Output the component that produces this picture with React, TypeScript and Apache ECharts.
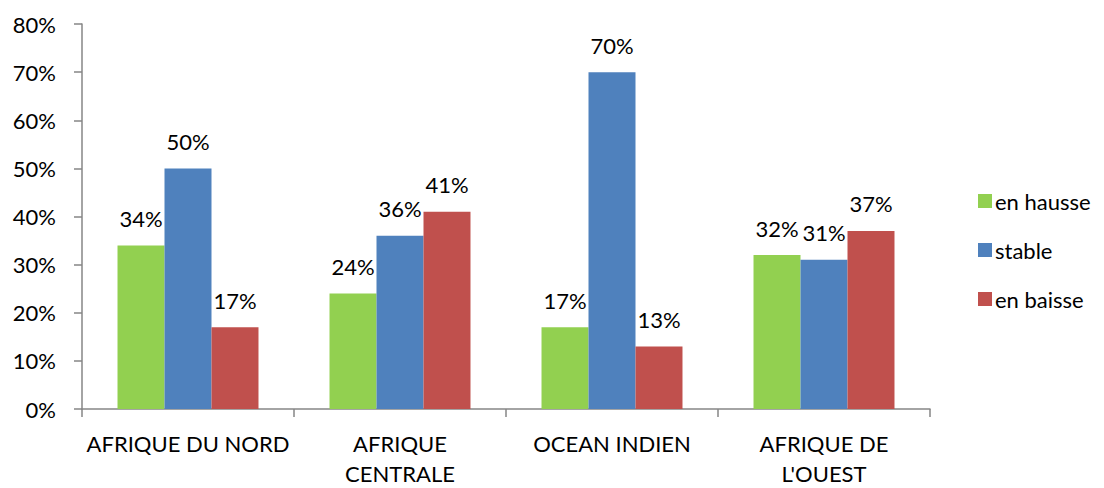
import React, { useEffect, useRef } from "react";
import * as echarts from "echarts";

const categories = ["AFRIQUE DU NORD", "AFRIQUE\nCENTRALE", "OCEAN INDIEN", "AFRIQUE DE\nL'OUEST"];
const seriesNames = ["en hausse", "stable", "en baisse"];
const hausse = [34, 24, 17, 32];
const stable = [50, 36, 70, 31];
const baisse = [17, 41, 13, 37];
const colors = ["#92D050", "#4F81BD", "#C0504D"];

const FONT = "Lato";
const FS = 22;

export default function App() {
  const ref = useRef<HTMLDivElement>(null);
  useEffect(() => {
    const chart = echarts.init(ref.current!, null, { renderer: "svg" });
    const data = [hausse, stable, baisse];
    chart.setOption({
      animation: false,
      backgroundColor: "#ffffff",
      textStyle: { fontFamily: FONT },
      grid: { left: 82, right: 174, top: 24, bottom: 71, containLabel: false },
      legend: {
        orient: "vertical",
        left: 973,
        top: 185,
        itemWidth: 14,
        itemHeight: 14,
        itemGap: 27,
        icon: "rect",
        textStyle: { fontFamily: FONT, fontSize: FS, color: "#000", lineHeight: 20, padding: [0, 0, 0, -2] },
        data: seriesNames,
      },
      xAxis: {
        type: "category",
        data: categories,
        axisLine: { lineStyle: { color: "#868686", width: 1.5 } },
        axisTick: { show: true, length: 8, lineStyle: { color: "#868686", width: 1.5 } },
        axisLabel: {
          interval: 0,
          fontFamily: FONT,
          fontSize: FS,
          color: "#000",
          lineHeight: 30,
          margin: 19,
        },
      },
      yAxis: {
        type: "value",
        min: 0,
        max: 80,
        interval: 10,
        splitLine: { show: false },
        axisLine: { show: true, lineStyle: { color: "#868686", width: 1.5 } },
        axisTick: { show: true, length: 8, lineStyle: { color: "#868686", width: 1.5 } },
        axisLabel: { formatter: "{value}%", fontFamily: FONT, fontSize: FS, color: "#000", margin: 26 },
      },
      series: seriesNames.map((name, i) => ({
        name,
        type: "bar",
        data: data[i],
        barGap: "0%",
        barCategoryGap: "33.5%",
        itemStyle: { color: colors[i] },
        label: {
          show: true,
          position: "top",
          distance: 16,
          formatter: "{c}%",
          fontFamily: FONT,
          fontSize: FS,
          color: "#000",
        },
      })),
    });
    return () => chart.dispose();
  }, []);
  return (
    <div
      ref={ref}
      style={{ position: "absolute", left: 0, top: 0, width: 1104, height: 488 }}
    />
  );
}
